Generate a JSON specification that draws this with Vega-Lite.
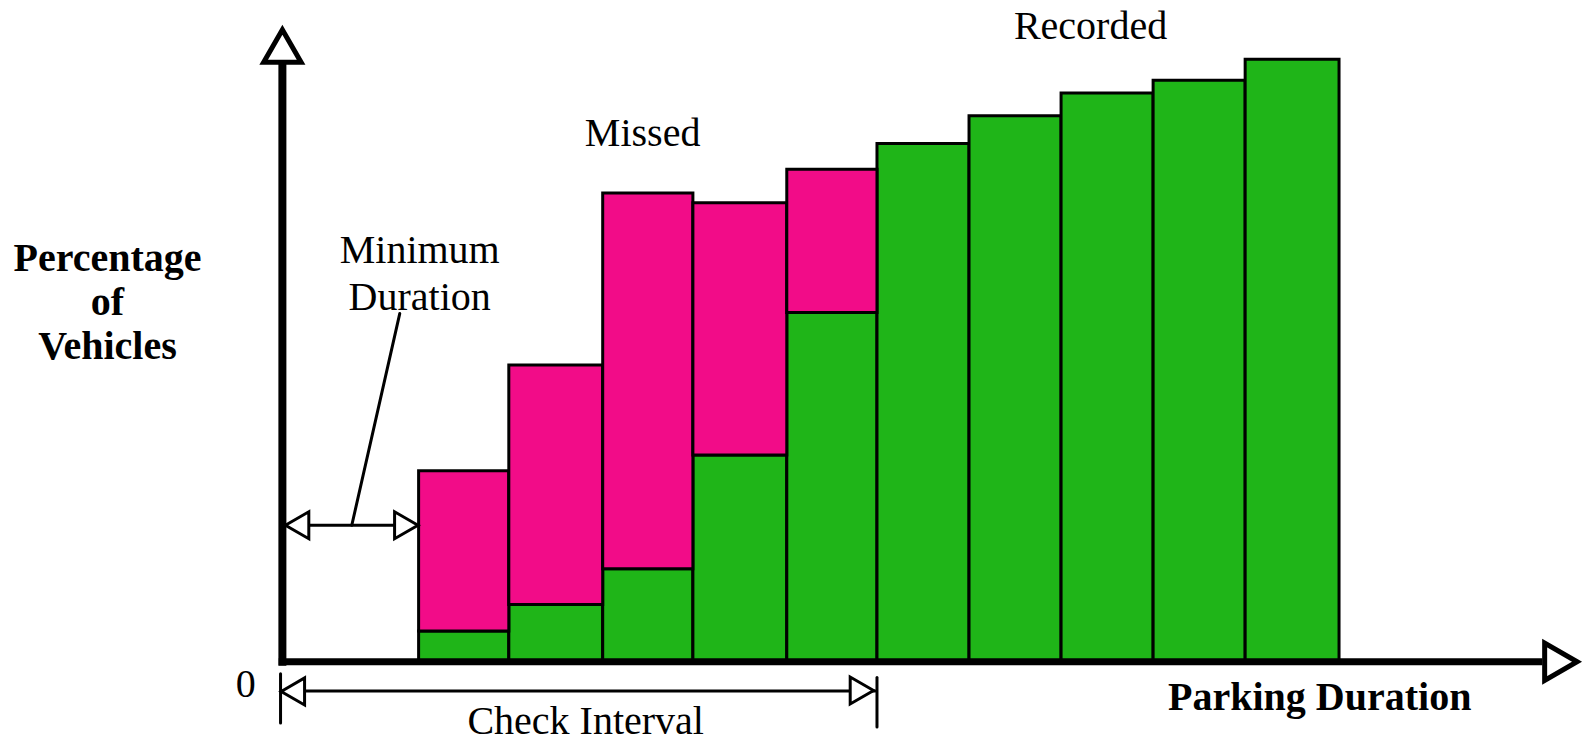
{
  "$schema": "https://vega.github.io/schema/vega-lite/v6.json",
  "width": 1588,
  "height": 742,
  "autosize": {"type": "fit", "contains": "padding"},
  "padding": 0,
  "background": "white",
  "config": {"view": {"stroke": null}},
  "datasets": {
    "bars": [
      {"start": 1.52, "end": 2.5, "recorded": 3.1, "total": 19.3},
      {"start": 2.5, "end": 3.52, "recorded": 5.8, "total": 30.0},
      {"start": 3.52, "end": 4.5, "recorded": 9.4, "total": 47.4},
      {"start": 4.5, "end": 5.52, "recorded": 20.9, "total": 46.4},
      {"start": 5.52, "end": 6.5, "recorded": 35.3, "total": 49.8},
      {"start": 6.5, "end": 7.5, "recorded": 52.4, "total": 52.4},
      {"start": 7.5, "end": 8.5, "recorded": 55.2, "total": 55.2},
      {"start": 8.5, "end": 9.5, "recorded": 57.5, "total": 57.5},
      {"start": 9.5, "end": 10.5, "recorded": 58.8, "total": 58.8},
      {"start": 10.5, "end": 11.52, "recorded": 60.9, "total": 60.9}
    ],
    "lines": [
      {"group": "yaxis", "x": 0.04, "y": -0.4, "x2": 0.04, "y2": 60.6},
      {"group": "xaxis", "x": 0.0, "y": 0, "x2": 13.73, "y2": 0},
      {"group": "note", "x": 0.07, "y": 13.8, "x2": 1.5, "y2": 13.8},
      {"group": "note", "x": 0.794, "y": 13.8, "x2": 1.315, "y2": 35.2},
      {"group": "note", "x": 0.03, "y": -2.95, "x2": 6.48, "y2": -2.95},
      {"group": "note", "x": 0.02, "y": -1.2, "x2": 0.02, "y2": -6.2},
      {"group": "note", "x": 6.5, "y": -1.6, "x2": 6.5, "y2": -6.6}
    ],
    "arrows": [
      {"group": "axis", "dir": "up", "x": 0.04, "y": 62.25},
      {"group": "axis", "dir": "right", "x": 13.93, "y": 0.0},
      {"group": "note", "dir": "left", "x": 0.2, "y": 13.8},
      {"group": "note", "dir": "right", "x": 1.386, "y": 13.8},
      {"group": "note", "dir": "left", "x": 0.154, "y": -3.0},
      {"group": "note", "dir": "right", "x": 6.336, "y": -2.9}
    ],
    "labels": [
      {"weight": "normal", "x": -0.357, "y": -3.6, "text": "0"},
      {"weight": "normal", "x": 1.532, "y": 40.3, "text": "Minimum"},
      {"weight": "normal", "x": 1.532, "y": 35.6, "text": "Duration"},
      {"weight": "normal", "x": 3.954, "y": 52.1, "text": "Missed"},
      {"weight": "normal", "x": 8.82, "y": 63.0, "text": "Recorded"},
      {"weight": "normal", "x": 3.335, "y": -7.25, "text": "Check Interval"},
      {"weight": "bold", "x": 11.31, "y": -4.9, "text": "Parking Duration"},
      {"weight": "bold", "x": -1.86, "y": 39.5, "text": "Percentage"},
      {"weight": "bold", "x": -1.86, "y": 35.1, "text": "of"},
      {"weight": "bold", "x": -1.86, "y": 30.6, "text": "Vehicles"}
    ]
  },
  "layer": [
    {
      "data": {"name": "bars"},
      "mark": {"type": "rect", "color": "#1FB518", "stroke": "black", "strokeWidth": 3},
      "encoding": {
        "x": {"field": "start", "type": "quantitative", "scale": {"domain": [-3.028, 14.214], "nice": false, "zero": false}, "axis": null},
        "x2": {"field": "end"},
        "y": {"field": "recorded", "type": "quantitative", "scale": {"domain": [-7.3, 66.9], "nice": false, "zero": false}, "axis": null},
        "y2": {"datum": 0}
      }
    },
    {
      "data": {"name": "bars"},
      "transform": [{"filter": "datum.total > datum.recorded"}],
      "mark": {"type": "rect", "color": "#F20C88", "stroke": "black", "strokeWidth": 3},
      "encoding": {
        "x": {"field": "start", "type": "quantitative", "axis": null},
        "x2": {"field": "end"},
        "y": {"field": "recorded", "type": "quantitative", "axis": null},
        "y2": {"field": "total"}
      }
    },
    {
      "data": {"name": "lines"},
      "transform": [{"filter": "datum.group === 'yaxis'"}],
      "mark": {"type": "rule", "color": "black", "strokeWidth": 8},
      "encoding": {
        "x": {"field": "x", "type": "quantitative", "axis": null},
        "y": {"field": "y", "type": "quantitative", "axis": null},
        "x2": {"field": "x2"},
        "y2": {"field": "y2"}
      }
    },
    {
      "data": {"name": "lines"},
      "transform": [{"filter": "datum.group === 'xaxis'"}],
      "mark": {"type": "rule", "color": "black", "strokeWidth": 7},
      "encoding": {
        "x": {"field": "x", "type": "quantitative", "axis": null},
        "y": {"field": "y", "type": "quantitative", "axis": null},
        "x2": {"field": "x2"},
        "y2": {"field": "y2"}
      }
    },
    {
      "data": {"name": "lines"},
      "transform": [{"filter": "datum.group === 'note'"}],
      "mark": {"type": "rule", "color": "black", "strokeWidth": 3, "strokeCap": "round"},
      "encoding": {
        "x": {"field": "x", "type": "quantitative", "axis": null},
        "y": {"field": "y", "type": "quantitative", "axis": null},
        "x2": {"field": "x2"},
        "y2": {"field": "y2"}
      }
    },
    {
      "data": {"name": "arrows"},
      "transform": [{"filter": "datum.group === 'axis'"}],
      "mark": {"type": "point", "filled": true, "fill": "white", "stroke": "black", "strokeWidth": 5, "size": 1400, "opacity": 1},
      "encoding": {
        "x": {"field": "x", "type": "quantitative", "axis": null},
        "y": {"field": "y", "type": "quantitative", "axis": null},
        "shape": {"field": "dir", "type": "nominal", "scale": {"domain": ["up", "right", "left"], "range": ["triangle-up", "triangle-right", "triangle-left"]}, "legend": null}
      }
    },
    {
      "data": {"name": "arrows"},
      "transform": [{"filter": "datum.group === 'note'"}],
      "mark": {"type": "point", "filled": true, "fill": "white", "stroke": "black", "strokeWidth": 3, "size": 729, "opacity": 1},
      "encoding": {
        "x": {"field": "x", "type": "quantitative", "axis": null},
        "y": {"field": "y", "type": "quantitative", "axis": null},
        "shape": {"field": "dir", "type": "nominal", "legend": null}
      }
    },
    {
      "data": {"name": "labels"},
      "transform": [{"filter": "datum.weight === 'normal'"}],
      "mark": {"type": "text", "font": "Liberation Serif", "fontSize": 40, "align": "center", "baseline": "alphabetic", "color": "black"},
      "encoding": {
        "x": {"field": "x", "type": "quantitative", "axis": null},
        "y": {"field": "y", "type": "quantitative", "axis": null},
        "text": {"field": "text"}
      }
    },
    {
      "data": {"name": "labels"},
      "transform": [{"filter": "datum.weight === 'bold'"}],
      "mark": {"type": "text", "font": "Liberation Serif", "fontSize": 40, "fontWeight": "bold", "align": "center", "baseline": "alphabetic", "color": "black"},
      "encoding": {
        "x": {"field": "x", "type": "quantitative", "axis": null},
        "y": {"field": "y", "type": "quantitative", "axis": null},
        "text": {"field": "text"}
      }
    }
  ]
}
